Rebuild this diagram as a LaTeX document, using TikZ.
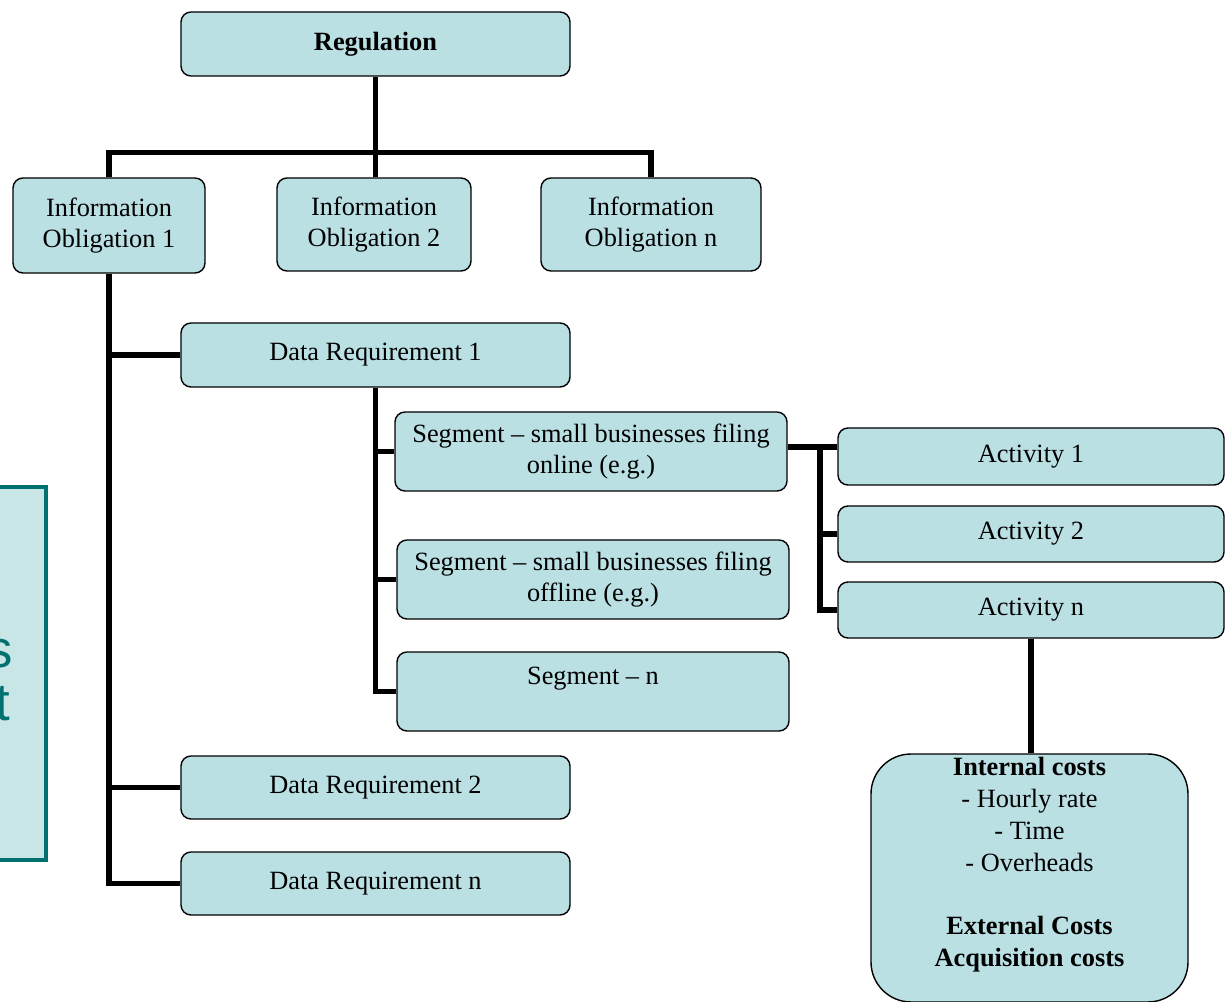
\documentclass[tikz,border=0pt]{standalone}
\usepackage{fontspec}
\setmainfont{Liberation Serif}
\newfontfamily\sidefont{Liberation Sans}
\usepackage{tikz}
\usetikzlibrary{positioning}
\definecolor{boxfill}{RGB}{186,224,228}
\definecolor{sidefill}{RGB}{200,230,230}
\definecolor{sideline}{RGB}{0,112,112}

\begin{document}
\begin{tikzpicture}
\useasboundingbox (0,0) rectangle (24.5,-20.04);
% panel cut off at the left edge
 \fill[sidefill, draw=sideline, line width=2.3pt] (-0.6,-9.74) rectangle (0.92,-17.2);
 \node (lbls) [anchor=base east, inner sep=0pt, text=sideline, font=\sidefont\fontsize{30}{30}\selectfont] at (0.26,-13.34) {s};
 \node (lblt) [anchor=base east, inner sep=0pt, text=sideline, font=\sidefont\fontsize{30}{30}\selectfont] at (0.2,-14.4) {t};

 \begin{scope}[every node/.style={rectangle, rounded corners=0.2cm, draw=black, fill=boxfill, line width=0.8pt, align=center, inner sep=2pt, font=\fontsize{15}{18.1}\selectfont}]
    \node (reg) [minimum width=7.78cm, minimum height=1.28cm] at (7.51,-0.88) {\textbf{Regulation}};
    \node (io1) [minimum width=3.84cm, minimum height=1.9cm] at (2.18,-4.51) {Information\\Obligation 1};
    \node (io2) [minimum width=3.88cm, minimum height=1.86cm] at (7.48,-4.49) {Information\\Obligation 2};
    \node (ion) [minimum width=4.4cm, minimum height=1.86cm] at (13.02,-4.49) {Information\\Obligation n};
    \node (dr1) [minimum width=7.78cm, minimum height=1.28cm] at (7.51,-7.1) {Data Requirement 1};
    \node (seg1) [minimum width=7.84cm, minimum height=1.58cm] at (11.82,-9.03) {Segment -- small businesses filing\\online (e.g.)};
    \node (seg2) [minimum width=7.84cm, minimum height=1.58cm] at (11.86,-11.59) {Segment -- small businesses filing\\offline (e.g.)};
    \node (segn) [minimum width=7.84cm, minimum height=1.58cm] at (11.86,-13.83) {Segment -- n\\ \mbox{}};
    \node (dr2) [minimum width=7.78cm, minimum height=1.26cm] at (7.51,-15.75) {Data Requirement 2};
    \node (drn) [minimum width=7.78cm, minimum height=1.26cm] at (7.51,-17.67) {Data Requirement n};
    \node (act1) [minimum width=7.72cm, minimum height=1.14cm] at (20.62,-9.13) {Activity 1};
    \node (act2) [minimum width=7.72cm, minimum height=1.12cm] at (20.62,-10.68) {Activity 2};
    \node (actn) [minimum width=7.72cm, minimum height=1.12cm] at (20.62,-12.2) {Activity n};
    \node (cost) [rounded corners=0.8cm, minimum width=6.34cm, minimum height=4.94cm] at (20.59,-17.56)
      {\textbf{Internal costs}\\- Hourly rate\\- Time\\- Overheads\\ \mbox{}\\ \textbf{External Costs}\\ \textbf{Acquisition costs}\\ \mbox{}};
 \end{scope}

 \begin{scope}[line width=3.1pt]
   \coordinate (jn) at (16.4,-8.94);
   \draw (reg.south) -- (reg.south |- io2.north);
   \draw (io1.north) -- ++(0,0.5) -| (ion.north);
   \draw (io1.south) |- (drn.west);
   \draw (io1.south |- dr1.west) -- (dr1.west);
   \draw (io1.south |- dr2.west) -- (dr2.west);
   \draw (dr1.south) |- (segn.west);
   \draw (dr1.south |- seg1.west) -- (seg1.west);
   \draw (dr1.south |- seg2.west) -- (seg2.west);
   \draw (seg1.east |- jn) -- (act1.west |- jn);
   \draw (jn) |- (actn.west);
   \draw (jn |- act2.west) -- (act2.west);
   \draw (actn.south) -- (actn.south |- cost.north);
 \end{scope}
\end{tikzpicture}
\end{document}
